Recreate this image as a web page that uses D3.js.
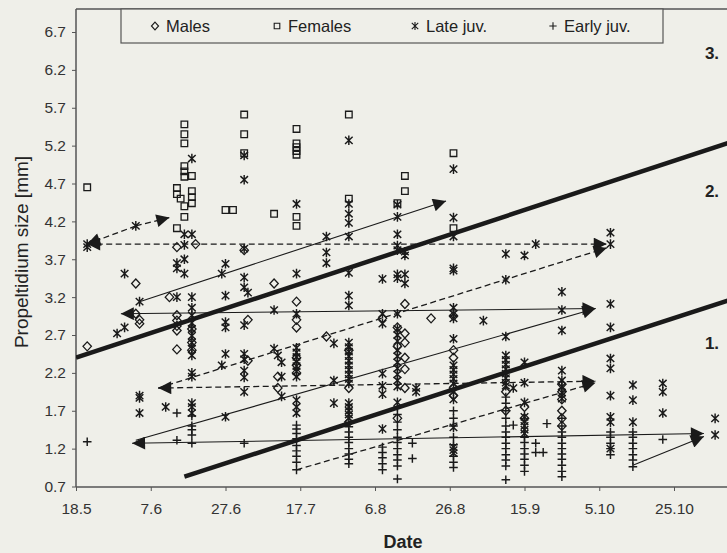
<!doctype html>
<html>
<head>
<meta charset="utf-8">
<title>Propeltidium size by date</title>
<script src="https://cdn.jsdelivr.net/npm/d3@7"></script>
<style>
  body { margin: 0; background: #efefe9; }
  svg { display: block; font-family: "Liberation Sans", Arial, sans-serif; }
</style>
</head>
<body>
<svg id="chart" width="727" height="553"></svg>
<script>
// tick labels
var xTicks = ['18.5', '7.6', '27.6', '17.7', '6.8', '26.8', '15.9', '5.10', '25.10'];
var yTicks = [0.7, 1.2, 1.7, 2.2, 2.7, 3.2, 3.7, 4.2, 4.7, 5.2, 5.7, 6.2, 6.7];

var categories = ['Males', 'Females', 'Late juv.', 'Early juv.'];
var regionLabels = ['3.', '2.', '1.'];

// [date, sizes on that date]
var males = [
  ['21.5', [2.55]],
  ['3.6', [3.38, 2.98]],
  ['4.6', [2.90, 2.85]],
  ['12.6', [3.20]],
  ['14.6', [3.86, 2.96, 2.89, 2.82, 2.76, 2.51]],
  ['18.6', [2.78, 2.60, 2.50]],
  ['19.6', [3.90]],
  ['2.7', [3.82]],
  ['3.7', [2.90, 2.36]],
  ['10.7', [3.38]],
  ['11.7', [2.15, 2.00]],
  ['16.7', [3.14, 2.90, 2.80, 2.40, 2.30, 2.20]],
  ['24.7', [2.68]],
  ['30.7', [2.50, 2.00, 1.55]],
  ['8.8', [2.92]],
  ['12.8', [2.80, 2.55, 1.60]],
  ['14.8', [3.11, 2.72, 2.60, 2.40, 2.25, 2.00]],
  ['21.8', [2.92]],
  ['27.8', [2.95, 2.50, 2.40, 2.00, 1.90]],
  ['10.9', [1.95, 1.70]],
  ['15.9', [1.75, 1.60]],
  ['25.9', [2.05, 1.95, 1.85, 1.70, 1.60, 1.50]]
];

var females = [
  ['21.5', [4.65]],
  ['14.6', [4.64, 4.56, 4.11]],
  ['15.6', [4.50]],
  ['16.6', [5.48, 5.35, 5.23, 4.93, 4.86, 4.79, 4.40, 4.26]],
  ['18.6', [4.80, 4.60, 4.52, 4.44]],
  ['27.6', [4.35]],
  ['29.6', [4.35]],
  ['2.7', [5.61, 5.35, 5.10]],
  ['10.7', [4.30]],
  ['16.7', [5.42, 5.23, 5.18, 5.13, 5.08, 4.26, 4.14]],
  ['30.7', [5.61, 4.50]],
  ['12.8', [4.44]],
  ['14.8', [4.80, 4.60]],
  ['27.8', [5.10, 4.11]]
];

var lateJuv = [
  ['21.5', [3.90, 3.86]],
  ['29.5', [2.72]],
  ['31.5', [3.51, 2.80]],
  ['3.6', [4.14]],
  ['4.6', [3.14, 1.90, 1.87, 1.67]],
  ['11.6', [1.75]],
  ['14.6', [3.65, 3.58, 3.20]],
  ['16.6', [4.03, 3.89, 3.70, 3.51]],
  ['18.6', [5.03, 4.03, 3.20, 3.06, 2.96, 2.86, 2.78, 2.69, 2.60, 2.52, 2.43, 2.20, 2.15, 1.80, 1.75, 1.67]],
  ['26.6', [3.51, 2.30]],
  ['27.6', [3.64, 3.22, 2.87, 2.80, 2.45, 1.62]],
  ['2.7', [5.07, 4.75, 3.84, 3.46, 3.33, 2.83, 2.45, 2.38, 2.23, 2.14, 1.95]],
  ['3.7', [3.26]],
  ['10.7', [3.03, 2.52]],
  ['11.7', [2.43]],
  ['12.7', [2.34, 2.15, 1.89]],
  ['16.7', [4.43, 3.51, 2.98, 2.53, 2.47, 2.41, 2.35, 2.29, 2.22, 2.15, 1.84, 1.75, 1.67]],
  ['24.7', [4.00, 3.79, 3.65]],
  ['26.7', [2.59, 2.10, 1.80]],
  ['30.7', [5.27, 4.43, 4.30, 4.18, 4.00, 3.52, 3.22, 3.09, 2.60, 2.54, 2.48, 2.42, 2.36, 2.30, 2.24, 2.18, 2.12, 2.06, 1.80, 1.75, 1.70, 1.65, 1.60]],
  ['8.8', [3.44, 2.98, 2.85, 2.19, 2.03, 1.92, 1.46]],
  ['12.8', [4.42, 4.26, 4.03, 3.88, 3.82, 3.50, 3.45, 2.98, 2.78, 2.70, 2.62, 2.50, 2.42, 2.34, 2.26, 2.18, 2.10, 2.02, 1.81]],
  ['14.8', [3.80, 3.75, 3.50, 3.38]],
  ['17.8', [2.00, 1.95]],
  ['27.8', [4.89, 4.25, 4.00, 3.58, 3.55, 3.06, 2.98, 2.92, 2.65, 2.30, 2.24, 2.18, 2.12, 2.06, 1.95, 1.85, 1.48, 1.22, 1.18, 1.14]],
  ['4.9', [2.89]],
  ['10.9', [3.77, 3.43, 2.68, 2.43, 2.37, 2.31, 2.25, 2.19, 2.13, 2.07, 2.03]],
  ['12.9', [2.00]],
  ['15.9', [3.75, 2.34, 2.07, 1.81, 1.62, 1.56, 1.50, 1.45, 1.40]],
  ['18.9', [3.90]],
  ['25.9', [3.27, 3.03, 2.76, 2.23, 2.10, 2.02, 1.94, 1.86]],
  ['8.10', [4.05, 3.90, 3.11, 2.80, 2.39, 2.26, 1.90, 1.62, 1.55, 1.20]],
  ['14.10', [2.04, 1.84, 1.55]],
  ['22.10', [2.06, 1.95, 1.67]],
  ['5.11', [1.60, 1.38]]
];

var earlyJuv = [
  ['21.5', [1.29]],
  ['14.6', [1.67, 1.31]],
  ['18.6', [1.63, 1.50, 1.45, 1.38, 1.27]],
  ['2.7', [1.27]],
  ['16.7', [1.51, 1.46, 1.40, 1.33, 1.24, 1.17, 1.10, 1.02, 0.92]],
  ['30.7', [1.49, 1.42, 1.35, 1.28, 1.20, 1.13, 1.06, 1.00]],
  ['8.8', [1.22, 1.15, 1.08, 1.00, 0.92]],
  ['12.8', [1.75, 1.65, 1.55, 1.45, 1.35, 1.28, 1.20, 1.12, 1.05, 0.97, 0.80]],
  ['16.8', [1.27, 1.07]],
  ['27.8', [1.70, 1.60, 1.50, 1.35, 1.25, 1.10, 1.02, 0.95]],
  ['10.9', [1.88, 1.80, 1.70, 1.60, 1.50, 1.42, 1.35, 1.27, 1.20, 1.12, 1.05, 0.97, 0.79]],
  ['12.9', [1.51]],
  ['15.9', [1.35, 1.28, 1.20, 1.13, 1.06, 0.98, 0.90]],
  ['18.9', [1.27, 1.15]],
  ['20.9', [1.15]],
  ['21.9', [1.53]],
  ['25.9', [1.60, 1.50, 1.42, 1.35, 1.27, 1.20, 1.13, 1.06, 0.98, 0.90, 0.83]],
  ['8.10', [1.42, 1.35, 1.27, 1.20, 1.12]],
  ['14.10', [1.42, 1.35, 1.27, 1.20, 1.12, 1.05, 0.96]],
  ['22.10', [1.32]]
];

// thick boundary lines between size classes
var boundaries = [
  [['18.5', 2.40], ['10.11', 5.26]],
  [['16.6', 0.83], ['10.11', 3.18]]
];

// growth arrows: from, to, dashed, arrow at start
var arrows = [
  [['3.6', 4.14], ['21.5', 3.90], true, false],
  [['3.6', 4.14], ['12.6', 4.25], true, false],
  [['21.5', 3.90], ['7.10', 3.90], true, true],
  [['9.6', 2.00], ['7.10', 3.85], true, false],
  [['9.6', 2.00], ['4.10', 2.09], true, true],
  [['16.7', 0.92], ['4.10', 2.07], true, false],
  [['30.5', 2.98], ['4.10', 3.05], false, true],
  [['4.6', 3.14], ['25.8', 4.47], false, false],
  [['3.6', 1.31], ['4.10', 3.05], false, false],
  [['2.6', 1.27], ['2.11', 1.40], false, true],
  [['14.10', 0.98], ['2.11', 1.36], false, false]
];

var parse = d3.utcParse('%d.%m');
var fmt = d3.utcFormat('%-d.%-m');
var ink = '#1a1a1a';

var plotLeft = 76, plotTop = 9, plotBottom = 487, plotRight = 727;

var x = d3.scaleUtc()
    .domain([parse('18.5'), parse('25.10')])
    .range([76, 674]);
var y = d3.scaleLinear()
    .domain([0.7, 6.7])
    .range([486.5, 32]);

var svg = d3.select('#chart');

svg.append('rect')
    .attr('width', 727).attr('height', 553)
    .attr('fill', '#efefe9');

var defs = svg.append('defs');
defs.append('clipPath').attr('id', 'plotclip')
  .append('rect')
    .attr('x', plotLeft).attr('y', plotTop)
    .attr('width', plotRight - plotLeft).attr('height', plotBottom - plotTop);
defs.append('marker')
    .attr('id', 'head')
    .attr('viewBox', '0 0 10 10')
    .attr('refX', 10).attr('refY', 5)
    .attr('markerUnits', 'userSpaceOnUse')
    .attr('markerWidth', 17).attr('markerHeight', 13)
    .attr('orient', 'auto-start-reverse')
  .append('path')
    .attr('d', 'M0,0L10,5L0,10Z')
    .attr('fill', ink);

var symbols = {
  'Males': 'M0,-4.5L4.2,0L0,4.5L-4.2,0Z',
  'Females': 'M-3.3,-3.3H3.3V3.3H-3.3Z',
  'Late juv.': 'M-3.8,-3.6L3.8,3.6M-3.8,3.6L3.8,-3.6M0,-4.8V4.8',
  'Early juv.': 'M-4.3,0H4.3M0,-4.3V4.3'
};
var series = {
  'Males': males,
  'Females': females,
  'Late juv.': lateJuv,
  'Early juv.': earlyJuv
};

// axes
var yAxis = svg.append('g')
    .attr('transform', 'translate(' + plotLeft + ',0)')
    .call(d3.axisLeft(y).tickValues(yTicks).tickFormat(d3.format('.1f')).tickSize(4).tickPadding(6));
var xAxis = svg.append('g')
    .attr('transform', 'translate(0,' + plotBottom + ')')
    .call(d3.axisBottom(x).tickValues(xTicks.map(parse)).tickFormat(fmt).tickSize(4).tickPadding(12));

[yAxis, xAxis].forEach(function (g) {
  g.select('.domain').remove();
  g.selectAll('line').attr('stroke', '#555');
  g.selectAll('text')
      .attr('fill', '#333')
      .style('font-size', '15.5px')
      .style('font-family', '"Liberation Sans", Arial, sans-serif');
});

var frame = svg.append('g').attr('stroke', '#555').attr('stroke-width', 1.5);
frame.append('line').attr('x1', plotLeft).attr('x2', plotRight).attr('y1', plotTop).attr('y2', plotTop);
frame.append('line').attr('x1', plotLeft).attr('x2', plotLeft).attr('y1', plotTop).attr('y2', plotBottom);
frame.append('line').attr('x1', plotLeft).attr('x2', plotRight).attr('y1', plotBottom).attr('y2', plotBottom);

var plot = svg.append('g').attr('clip-path', 'url(#plotclip)');

function px(p) { return [x(parse(p[0])), y(p[1])]; }

// boundaries
plot.selectAll('.boundary')
    .data(boundaries)
  .enter().append('path')
    .attr('class', 'boundary')
    .attr('d', function (d) { return d3.line()(d.map(px)); })
    .attr('stroke', ink)
    .attr('stroke-width', 4.5)
    .attr('fill', 'none');

// points
categories.forEach(function (cat, ci) {
  var pts = [];
  series[cat].forEach(function (col) {
    col[1].forEach(function (v) { pts.push([col[0], v]); });
  });
  plot.selectAll('.pt' + ci)
      .data(pts)
    .enter().append('path')
      .attr('class', 'pt' + ci)
      .attr('transform', function (d) { var p = px(d); return 'translate(' + p[0] + ',' + p[1] + ')'; })
      .attr('d', symbols[cat])
      .attr('fill', 'none')
      .attr('stroke', ink)
      .attr('stroke-width', ci < 2 ? 1.3 : 1.45);
});

// arrows
plot.selectAll('.arrow')
    .data(arrows)
  .enter().append('path')
    .attr('class', 'arrow')
    .attr('d', function (d) { return d3.line()([px(d[0]), px(d[1])]); })
    .attr('fill', 'none')
    .attr('stroke', ink)
    .attr('stroke-width', function (d) { return d[2] ? 1.3 : 1.1; })
    .attr('stroke-dasharray', function (d) { return d[2] ? '6,3.5' : null; })
    .attr('marker-end', 'url(#head)')
    .attr('marker-start', function (d) { return d[3] ? 'url(#head)' : null; });

// legend
var legend = svg.append('g');
legend.append('rect')
    .attr('x', 121).attr('y', plotTop)
    .attr('width', 542).attr('height', 34)
    .attr('fill', '#efefe9')
    .attr('stroke', '#555').attr('stroke-width', 1.2);
var legendX = [155, 277, 415, 553];
categories.forEach(function (cat, i) {
  legend.append('path')
      .attr('transform', 'translate(' + legendX[i] + ',26)scale(0.85)')
      .attr('d', symbols[cat])
      .attr('fill', 'none')
      .attr('stroke', ink)
      .attr('stroke-width', 1.3);
  legend.append('text')
      .attr('x', legendX[i] + 11).attr('y', 32)
      .attr('fill', '#222')
      .style('font-size', '16.5px')
      .text(cat);
});

// size class labels
var regionY = [6.42, 4.6, 2.6];
svg.selectAll('.region')
    .data(regionLabels)
  .enter().append('text')
    .attr('class', 'region')
    .attr('x', 712)
    .attr('y', function (d, i) { return y(regionY[i]); })
    .attr('dy', '0.35em')
    .attr('text-anchor', 'middle')
    .attr('fill', '#222')
    .style('font-size', '17px')
    .style('font-weight', 'bold')
    .text(function (d) { return d; });

// axis titles
svg.append('text')
    .attr('transform', 'translate(21,252)rotate(-90)')
    .attr('text-anchor', 'middle')
    .attr('dy', '0.35em')
    .attr('fill', '#222')
    .style('font-size', '19px')
    .text('Propeltidium size [mm]');
svg.append('text')
    .attr('x', 403).attr('y', 548)
    .attr('text-anchor', 'middle')
    .attr('fill', '#222')
    .style('font-size', '18px')
    .style('font-weight', 'bold')
    .text('Date');
</script>
</body>
</html>
